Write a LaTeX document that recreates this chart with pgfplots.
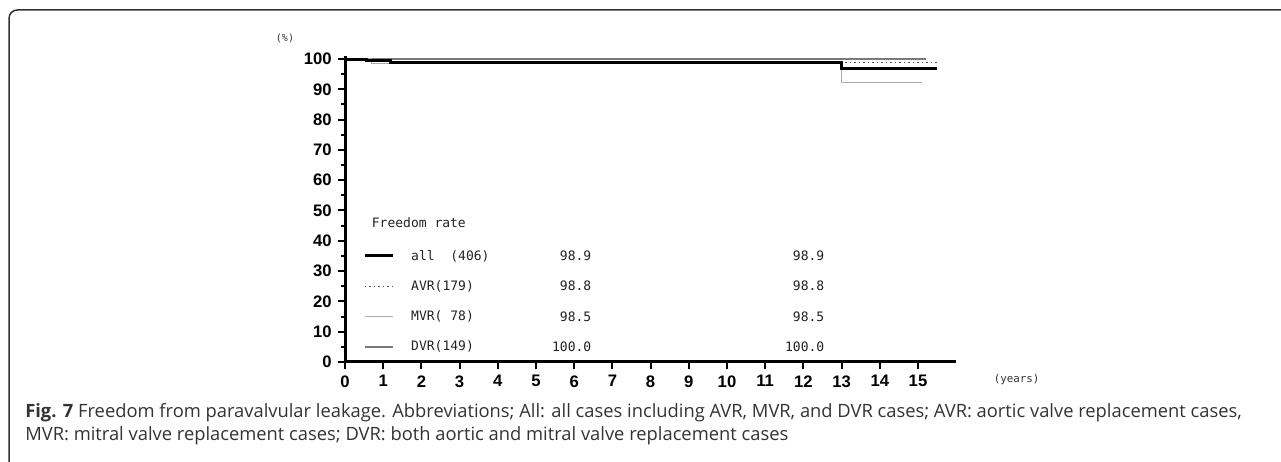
\documentclass[border=0pt]{standalone}
\usepackage{fontspec}
\setmainfont{Liberation Sans}
\newfontfamily\capfont{Open Sans}
\newfontfamily\legfont{DejaVu Sans Mono}
\usepackage{pgfplots}
\pgfplotsset{compat=1.18}
\definecolor{txt}{HTML}{333333}
\definecolor{leg}{HTML}{222222}
\definecolor{dvr}{HTML}{7A7A7A}
\definecolor{mvr}{HTML}{AAAAAA}
\definecolor{avr}{HTML}{555555}
\begin{document}
\begin{tikzpicture}
\useasboundingbox (0,0) rectangle (768.6pt,277.2pt);
\draw[color=txt, line width=0.9pt] (5.4pt,0) -- (5.4pt,266.2pt) arc[start angle=180,end angle=90,radius=5pt] -- (768.6pt,271.2pt);
\begin{axis}[
  at={(207pt,60pt)}, anchor=south west,
  x=22.92pt, y=1.818pt,
  xmin=0, xmax=16, ymin=0, ymax=101,
  axis lines=left, axis line style={-, line width=1.8pt},
  xtick={0,...,15}, ytick={0,10,...,100}, minor y tick num=1,
  tick align=outside, major tick length=4.5pt, minor tick length=2.2pt,
  tick style={line width=1.2pt, black},
  tick label style={font=\bfseries\fontsize{10}{10}\selectfont},
  /pgf/number format/assume math mode=true,
  clip=false,
]
\addplot[dvr, line width=1.2pt] coordinates {(0,100) (15.2,100)};
\addplot[mvr, line width=0.9pt] coordinates {(0,100) (0.7,100) (0.7,98.5) (13,98.5) (13,92.3) (15.1,92.3)};
\addplot[avr, line width=0.7pt, dotted] coordinates {(0,100) (0.5,100) (0.5,99.4) (1.2,99.4) (1.2,98.8) (13,98.8) (15.5,98.8)};
\addplot[black, line width=1.8pt] coordinates {(0,99.9) (0.55,99.9) (0.55,99.5) (1.2,99.5) (1.2,98.9) (13,98.9) (13,96.7) (15.5,96.7)};

\node[anchor=west, text=leg, font=\legfont\fontsize{7.8}{8}\selectfont] at (axis cs:0.55,46) {Freedom rate};
\draw[black, line width=1.8pt] (axis cs:0.52,35) -- (axis cs:1.26,35);
\draw[avr, line width=0.7pt, dotted] (axis cs:0.52,25) -- (axis cs:1.26,25);
\draw[mvr, line width=0.9pt] (axis cs:0.52,15) -- (axis cs:1.26,15);
\draw[dvr, line width=1.2pt] (axis cs:0.52,5) -- (axis cs:1.26,5);
\begin{scope}[every node/.style={text=leg, font=\legfont\fontsize{7.8}{8}\selectfont}]
\node[anchor=west] at (axis cs:1.58,35) {all\ \ (406)};
\node[anchor=west] at (axis cs:1.58,25) {AVR(179)};
\node[anchor=west] at (axis cs:1.58,15) {MVR(\ 78)};
\node[anchor=west] at (axis cs:1.58,5) {DVR(149)};
\node[anchor=east] at (axis cs:6.6,35) {98.9};
\node[anchor=east] at (axis cs:6.6,25) {98.8};
\node[anchor=east] at (axis cs:6.6,15) {98.5};
\node[anchor=east] at (axis cs:6.6,5) {100.0};
\node[anchor=east] at (axis cs:12.7,35) {98.9};
\node[anchor=east] at (axis cs:12.7,25) {98.8};
\node[anchor=east] at (axis cs:12.7,15) {98.5};
\node[anchor=east] at (axis cs:12.7,5) {100.0};
\end{scope}
\end{axis}
\node[text=txt, font=\legfont\fontsize{6}{6}\selectfont] at (171pt,254.4pt) {(\%)};
\node[text=txt, font=\legfont\fontsize{6.5}{6}\selectfont] at (610pt,49.2pt) {(years)};
\node[anchor=base west, inner sep=0pt, text=txt, font=\capfont\fontsize{11}{12}\selectfont] at (15pt,26.4pt) {\textbf{Fig. 7} Freedom from paravalvular leakage. Abbreviations; All: all cases including AVR, MVR, and DVR cases; AVR: aortic valve replacement cases,};
\node[anchor=base west, inner sep=0pt, text=txt, font=\capfont\fontsize{11}{12}\selectfont] at (15pt,12.9pt) {MVR: mitral valve replacement cases; DVR: both aortic and mitral valve replacement cases};
\end{tikzpicture}
\end{document}
